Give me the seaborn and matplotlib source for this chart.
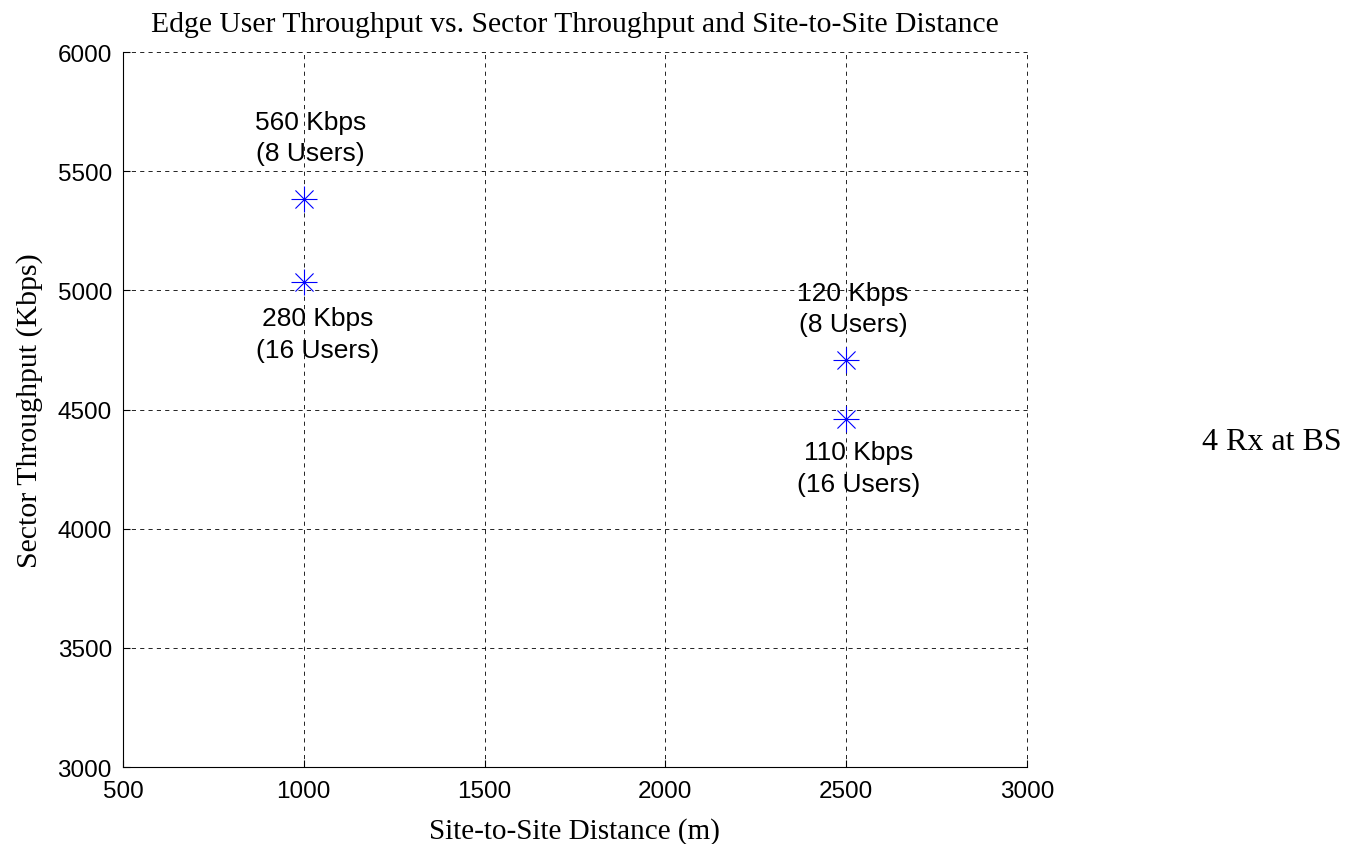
import numpy as np
import pandas as pd
import matplotlib
matplotlib.use('Agg')
import matplotlib.pyplot as plt
import seaborn as sns

# values
distance = [1000, 1000, 2500, 2500]
sector_tp = [5385, 5035, 4710, 4460]
edge_tp = ['560 Kbps', '280 Kbps', '120 Kbps', '110 Kbps']
users = ['(8 Users)', '(16 Users)', '(8 Users)', '(16 Users)']
# label offsets in pixels relative to the marker
offsets = [(7, 61), (14, -52), (7, 51), (13, -49)]

df = pd.DataFrame({'dist': distance, 'tp': sector_tp})

sns.set_style('white')
plt.rcParams['font.family'] = ['Liberation Sans', 'DejaVu Sans']
plt.rcParams['text.color'] = 'black'
plt.rcParams['axes.labelcolor'] = 'black'

fig = plt.figure(figsize=(13.55, 8.45), dpi=100)
ax = fig.add_axes([0.0908, 0.0911, 0.667, 0.846])

# matlab style asterisk = plus + cross
sns.scatterplot(data=df, x='dist', y='tp', marker='+', s=350, color='blue',
                linewidth=0.8, ax=ax, zorder=3)
sns.scatterplot(data=df, x='dist', y='tp', marker='x', s=170, color='blue',
                linewidth=0.8, ax=ax, zorder=3)

for x, y, a, b, off in zip(distance, sector_tp, edge_tp, users, offsets):
    ax.annotate(a + '\n' + b, (x, y), xytext=off, textcoords='offset pixels',
                ha='center', va='center', fontsize=19, linespacing=1.4,
                color='black')

ax.set_xlim(500, 3000)
ax.set_ylim(3000, 6000)
ax.set_xticks(np.arange(500, 3001, 500))
ax.set_yticks(np.arange(3000, 6001, 500))
ax.grid(True, color='black', linestyle=(0, (5, 5)), linewidth=0.6)
# keep the grid lines that sit on the axes limits visible
for gl in ax.get_xgridlines() + ax.get_ygridlines():
    gl.set_clip_on(False)
sns.despine(ax=ax)
for s in ['left', 'bottom']:
    ax.spines[s].set_color('black')
    ax.spines[s].set_linewidth(0.8)
ax.tick_params(axis='both', labelsize=17.5, direction='in', length=5,
               colors='black', bottom=True, left=True)
ax.tick_params(axis='x', pad=9)
ax.tick_params(axis='y', pad=8)

ax.set_xlabel('Site-to-Site Distance (m)', family='Liberation Serif',
              fontsize=21, va='top', color='black')
ax.xaxis.set_label_coords(0.5, -0.07)
ax.set_ylabel('Sector Throughput (Kbps)', family='Liberation Serif',
              fontsize=21.5, color='black')
ax.yaxis.set_label_coords(-0.089, 0.5)
ax.set_title('Edge User Throughput vs. Sector Throughput and Site-to-Site Distance',
             family='Liberation Serif', fontsize=21.3, pad=15, color='black')

fig.text(0.9387, 0.4675, '4 Rx at BS', family='Liberation Serif', fontsize=23,
         ha='center', va='baseline', color='black')

plt.savefig('out.png', dpi=100)
